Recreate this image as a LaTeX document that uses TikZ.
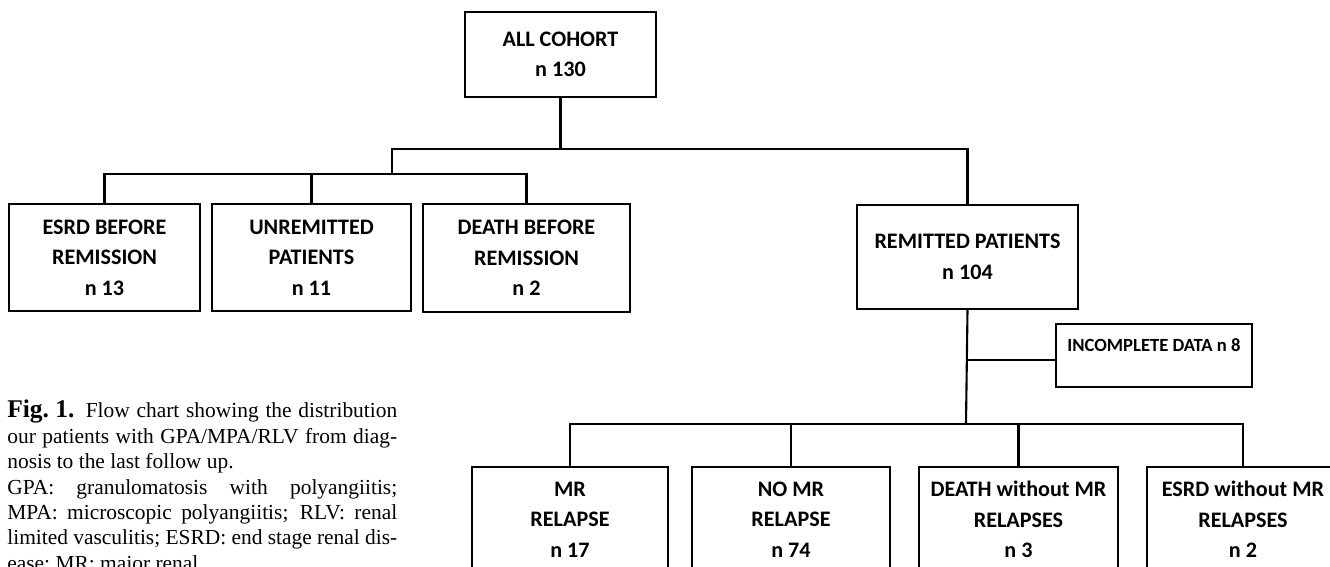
\documentclass[tikz,border=0pt]{standalone}
\usepackage{fontspec}
\setmainfont{Liberation Serif}
\newfontfamily\boxfont{Carlito}
\usepackage{tikz}
\usetikzlibrary{positioning}
\usetikzlibrary{calc}

\tikzset{
  box/.style={draw,line width=1.4pt,align=center,inner sep=0pt,
    font=\boxfont\bfseries\fontsize{12.6}{17.3}\selectfont},
  link/.style={line width=1.2pt},
  caption/.style={text width=7.8cm,align=justify,inner sep=0pt,
    font=\fontsize{12.2}{14.45}\selectfont}
}

\begin{document}
\begin{tikzpicture}[x=0.02cm,y=-0.02cm]
  \useasboundingbox (0,0) rectangle (1330,567);
  \clip (0,0) rectangle (1330,567);
  % whole cohort
  \node[box,minimum width=3.82cm,minimum height=1.70cm] (cohort) at (560.5,54.5) {ALL COHORT\\n 130};
  % outcome before remission
  \node[box,minimum width=3.82cm,minimum height=2.14cm] (esrd) at (104.5,257.5) {ESRD BEFORE\\REMISSION\\n 13};
  \node[box,minimum width=3.98cm,minimum height=2.14cm] (unrem) at (311.5,257.5) {UNREMITTED\\PATIENTS\\n 11};
  \node[box,minimum width=4.14cm,minimum height=2.16cm] (deathb) at (526.5,258) {DEATH BEFORE\\REMISSION\\n 2};
  \node[box,minimum width=4.42cm,minimum height=2.08cm] (remitted) at (967.5,257) {REMITTED PATIENTS\\n 104};
  \node[box,minimum width=3.92cm,minimum height=1.26cm,text height=7.5pt,text depth=12.3pt,
    font=\boxfont\bfseries\fontsize{10.6}{12}\selectfont] (incomplete) at (1154,355.5) {INCOMPLETE DATA n 8};
  % follow up of remitted patients
  \node[box,minimum width=3.92cm,minimum height=2.10cm] (mr) at (570,519.5) {MR\\RELAPSE\\n 17};
  \node[box,minimum width=3.96cm,minimum height=2.10cm] (nomr) at (791,519.5) {NO MR\\RELAPSE\\n 74};
  \node[box,minimum width=3.98cm,minimum height=2.10cm] (deathw) at (1018.5,519.5) {DEATH without MR\\RELAPSES\\n 3};
  \node[box,minimum width=3.84cm,minimum height=2.10cm] (esrdw) at (1243,519.5) {ESRD without MR\\RELAPSES\\n 2};
  % branching lines
  \coordinate (upper) at (392,149);
  \coordinate (lower) at (392,174);
  \coordinate (split) at (966,424);
  \coordinate (side) at (966,360);
  \draw[link] (cohort.south) -- (cohort.south |- upper);
  \draw[link] (remitted.north) |- (upper) -- (lower);
  \foreach \b in {esrd,unrem,deathb} \draw[link] (\b.north) |- (lower);
  \draw[link] (remitted.south) -- (split);
  \foreach \b in {mr,nomr,deathw,esrdw} \draw[link] (\b.north) |- (split);
  \draw[link] (side) -- (side -| incomplete.west);
  % figure caption
  \node[caption,anchor=base west] (cap) at (7,418) {{\bfseries\fontsize{14.5}{14.45}\selectfont Fig.\hspace{0.25em}1.} Flow chart showing the distribution\linebreak
    our patients with GPA/MPA/RLV from diag-\linebreak
    nosis to the last follow up.\par
    GPA: granulomatosis with polyangiitis;\linebreak
    MPA: microscopic polyangiitis; RLV: renal\linebreak
    limited vasculitis; ESRD: end stage renal dis-\linebreak
    ease; MR: major renal};
\end{tikzpicture}
\end{document}
